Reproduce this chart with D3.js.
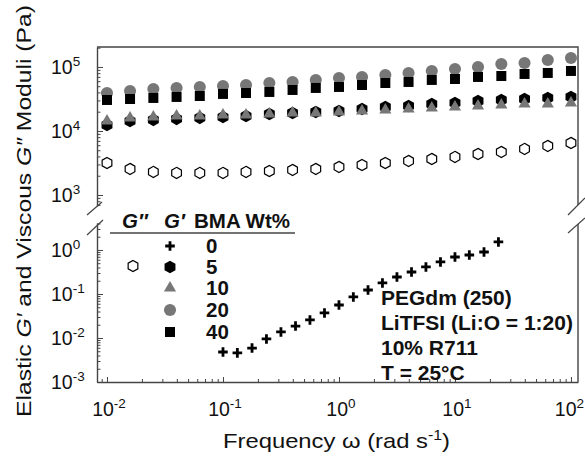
<!DOCTYPE html>
<meta charset="utf-8">
<title>Moduli vs frequency</title>
<style>
    body { margin: 0; background: #fff; }
    svg { display: block; font-family: "Liberation Sans", Arial, Helvetica, sans-serif; }
    .frame { fill: none; stroke: #444; stroke-width: 1.4px; }
    .axis path.domain { stroke: #444; stroke-width: 1.4px; }
    .axis line { stroke: #444; stroke-width: 1px; }
    .brk { stroke: #444; stroke-width: 1.2px; }
    .lbl { font-size: 19.5px; fill: #111; }
    .note { font-size: 21px; font-weight: bold; fill: #111; }
</style>
<body>
<svg id="chart"></svg>
<script src="https://cdn.jsdelivr.net/npm/d3@7/dist/d3.min.js"></script>
<script>
// frequencies for the crosslinked samples (5 points per decade)
var freqHi = [0.01, 0.0158, 0.0251, 0.0398, 0.0631, 0.1, 0.158, 0.251, 0.398, 0.631,
              1, 1.58, 2.51, 3.98, 6.31, 10, 15.8, 25.1, 39.8, 63.1, 100];
// frequencies for the 0 wt% sample
var freq0 = [0.1, 0.133, 0.178, 0.237, 0.316, 0.422, 0.562, 0.75, 1, 1.33,
             1.78, 2.37, 3.16, 4.22, 5.62, 7.5, 10, 13.3, 17.8, 23.7];

var gp0  = [0.0048, 0.0046, 0.0059, 0.0095, 0.0137, 0.0187, 0.0257, 0.0371, 0.0562, 0.0855,
            0.123, 0.178, 0.243, 0.316, 0.411, 0.534, 0.693, 0.769, 0.90, 1.52];
var gp5  = [12400, 14300, 14900, 15400, 16000, 16500, 17100, 18400, 19100, 19800, 20500,
            22100, 23700, 24600, 26400, 27400, 29400, 30500, 31600, 32800, 34000];
var gp10 = [14300, 16000, 16500, 17100, 17100, 17800, 17800, 18400, 19100, 19100, 19800,
            20500, 21300, 22100, 22900, 23700, 24600, 25500, 26400, 26400, 27400];
var gp20 = [39200, 42200, 45300, 47000, 48700, 50500, 52300, 56200, 58300, 62700, 67300,
            69800, 75000, 80600, 86600, 93000, 100000, 111400, 115500, 128600, 138200];
var gp40 = [30500, 31600, 32800, 34000, 35200, 37900, 39200, 40700, 43700, 47000, 48700,
            52300, 56200, 58300, 62700, 64900, 69800, 72300, 77700, 80600, 86600];
var gpp5 = [3160, 2550, 2290, 2210, 2210, 2210, 2290, 2370, 2460, 2550, 2740,
            2940, 3160, 3400, 3650, 3930, 4370, 4700, 5240, 5830, 6490];

var legendRows = ["0", "5", "10", "20", "40"];
var notes = ["PEGdm (250)", "LiTFSI (Li:O = 1:20)", "10% R711", "T = 25°C"];
var xTickExp = [-2, -1, 0, 1, 2];
var yHiExp = [5, 4, 3];
var yLoExp = [0, -1, -2, -3];

var W = 585, H = 460;
var L = 97, R = 578, T = 47, hiB = 206, loT = 223, B = 382;
var gray = "#777";

var svg = d3.select("#chart").attr("width", W).attr("height", H);

var x = d3.scaleLog().domain([0.0082, 115]).range([L, R]);
var yHi = d3.scaleLog().domain([673, 205000]).range([hiB, T]);
var yLo = d3.scaleLog().domain([0.001, 4.1]).range([B, loT]);

function isMajor(d) {
    var e = Math.log10(d);
    return Math.abs(e - Math.round(e)) < 1e-6;
}

// left axes (ticks point inward)
[yHi, yLo].forEach(function (sc) {
    var g = svg.append("g").attr("class", "axis")
        .attr("transform", "translate(" + L + ",0)")
        .call(d3.axisLeft(sc).ticks(10).tickSizeOuter(0).tickFormat(""));
    g.selectAll(".tick line").attr("x2", function (d) { return isMajor(d) ? 6 : 3.5; });
});

// bottom axis
var gx = svg.append("g").attr("class", "axis")
    .attr("transform", "translate(0," + B + ")")
    .call(d3.axisBottom(x).ticks(10).tickSizeOuter(0).tickFormat(""));
gx.selectAll(".tick line").attr("y2", function (d) { return isMajor(d) ? -5 : -3; });

// top and right frame
svg.append("path").attr("class", "frame")
    .attr("d", "M" + L + "," + T + "H" + R + "V" + 205 + "M" + R + "," + 224 + "V" + B);

// axis break marks
[[87, 215, 102, 202], [87, 235, 103, 220], [568, 215, 585, 198], [568, 233, 585, 218]].forEach(function (s) {
    svg.append("line").attr("class", "brk")
        .attr("x1", s[0]).attr("y1", s[1]).attr("x2", s[2]).attr("y2", s[3]);
});

// power-of-ten labels
function pow10(sel, e) {
    sel.append("tspan").text("10");
    sel.append("tspan").attr("dy", -8).attr("font-size", "13.5px").text(e);
}
xTickExp.forEach(function (e) {
    var t = svg.append("text").attr("class", "lbl").attr("text-anchor", "middle")
        .attr("x", x(Math.pow(10, e)) + 2).attr("y", 416).call(pow10, e);
    // keep the last label inside the window, as in the original
    var bb = t.node().getBBox();
    if (bb.x + bb.width > W - 1) t.attr("x", +t.attr("x") - (bb.x + bb.width - (W - 1)));
});
yHiExp.forEach(function (e) {
    svg.append("text").attr("class", "lbl")
        .attr("x", 51).attr("y", yHi(Math.pow(10, e)) + 7).call(pow10, e);
});
yLoExp.forEach(function (e) {
    svg.append("text").attr("class", "lbl")
        .attr("x", 51).attr("y", yLo(Math.pow(10, e)) + 7).call(pow10, e);
});

// axis titles
var yt = svg.append("text").attr("transform", "translate(31,211) rotate(-90)")
    .attr("text-anchor", "middle").attr("font-size", "20.5px").attr("fill", "#111")
    .attr("textLength", 412).attr("lengthAdjust", "spacingAndGlyphs");
yt.append("tspan").text("Elastic ");
yt.append("tspan").attr("font-style", "italic").text("G′");
yt.append("tspan").text(" and Viscous ");
yt.append("tspan").attr("font-style", "italic").text("G″");
yt.append("tspan").text(" Moduli (Pa)");

var xt = svg.append("text").attr("x", 223).attr("y", 448)
    .attr("font-size", "21px").attr("fill", "#111")
    .attr("textLength", 227).attr("lengthAdjust", "spacingAndGlyphs");
xt.append("tspan").text("Frequency ω (rad s");
xt.append("tspan").attr("dy", -8).attr("font-size", "14px").text("-1");
xt.append("tspan").attr("dy", 8).text(")");

// marker shapes
function hexPath(r) {
    var p = d3.path();
    for (var k = 0; k < 6; k++) {
        var a = -Math.PI / 2 + k * Math.PI / 3;
        if (k === 0) p.moveTo(r * Math.cos(a), r * Math.sin(a));
        else p.lineTo(r * Math.cos(a), r * Math.sin(a));
    }
    p.closePath();
    return p.toString();
}
var shapes = {
    plus: { d: "M-4.8,0H4.8M0,-4.8V4.8", fill: "none", stroke: "#000", sw: 2.8 },
    hex: { d: hexPath(6.3), fill: "#000", stroke: "none", sw: 0 },
    tri: { d: d3.symbol(d3.symbolTriangle, 64)(), fill: gray, stroke: "none", sw: 0 },
    circ: { d: d3.symbol(d3.symbolCircle, 115)(), fill: gray, stroke: "none", sw: 0 },
    sq: { d: d3.symbol(d3.symbolSquare, 100)(), fill: "#000", stroke: "none", sw: 0 },
    open: { d: hexPath(5.6), fill: "#fff", stroke: "#000", sw: 1.2 }
};

function marks(xs, ys, yScale, shape) {
    var s = shapes[shape];
    svg.append("g").selectAll("path").data(ys).join("path")
        .attr("transform", function (d, i) { return "translate(" + x(xs[i]) + "," + yScale(d) + ")"; })
        .attr("d", s.d).attr("fill", s.fill).attr("stroke", s.stroke).attr("stroke-width", s.sw);
}
function mark1(px, py, shape) {
    var s = shapes[shape];
    svg.append("path").attr("transform", "translate(" + px + "," + py + ")")
        .attr("d", s.d).attr("fill", s.fill).attr("stroke", s.stroke).attr("stroke-width", s.sw);
}

marks(freqHi, gpp5, yHi, "open");
marks(freqHi, gp5, yHi, "hex");
marks(freqHi, gp10, yHi, "tri");
marks(freqHi, gp20, yHi, "circ");
marks(freqHi, gp40, yHi, "sq");
marks(freq0, gp0, yLo, "plus");

// legend
var lg = svg.append("g").attr("font-weight", "bold").attr("font-size", "20.5px").attr("fill", "#111");
lg.append("text").attr("x", 122).attr("y", 228).attr("font-style", "italic").text("G″");
lg.append("text").attr("x", 164).attr("y", 228).attr("font-style", "italic").text("G′");
lg.append("text").attr("x", 194).attr("y", 228).text("BMA Wt%");
svg.append("line").attr("x1", 110).attr("x2", 295).attr("y1", 233).attr("y2", 233)
    .attr("stroke", "#444").attr("stroke-width", 1.3);
var rowY = [246, 267, 288, 310, 332];
var rowShape = ["plus", "hex", "tri", "circ", "sq"];
legendRows.forEach(function (t, i) {
    mark1(170, rowY[i], rowShape[i]);
    lg.append("text").attr("x", 206).attr("y", rowY[i] + 7).text(t);
});
mark1(133, 266, "open");

// sample description
notes.forEach(function (t, i) {
    svg.append("text").attr("class", "note").attr("x", 381).attr("y", 305 + i * 25).text(t);
});
</script>
</body>
